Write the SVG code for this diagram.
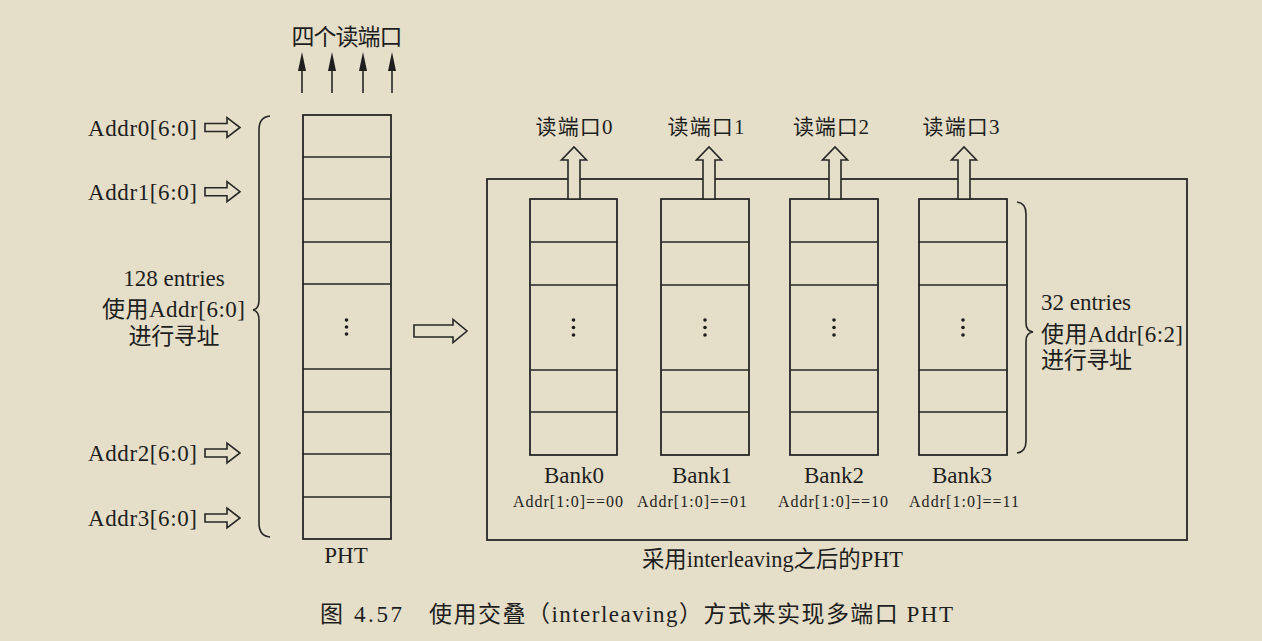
<svg xmlns="http://www.w3.org/2000/svg" width="1262" height="641" viewBox="0 0 1262 641">
<style>
.bg{fill:#e5dec8}
.ln{fill:none;stroke:#262626;stroke-width:1.6}
.box{fill:none;stroke:#262626;stroke-width:1.8}
.hol{fill:#e5dec8;stroke:#262626;stroke-width:1.6;stroke-linejoin:miter}
.head{fill:#1e1e1e}
.t{font-family:"Liberation Serif","Noto Sans CJK SC",serif;fill:#1e1e1e;font-size:23px}
.c{font-family:"Liberation Serif","Noto Sans CJK SC",serif;fill:#1e1e1e;font-size:21px}
.cap{font-family:"Liberation Serif","Noto Sans CJK SC",serif;fill:#1e1e1e;font-size:23px}
.s{font-family:"Liberation Serif","Noto Sans CJK SC",serif;fill:#1e1e1e;font-size:16px}
.mid{text-anchor:middle}
.dot{fill:#1e1e1e}
</style>
<rect class="bg" x="0" y="0" width="1262" height="641"/>

<g id="title-ports">
<text class="t mid" x="347" y="45" textLength="111" lengthAdjust="spacing">四个读端口</text>
</g>

<g id="connectors">
<!-- read port arrows above PHT -->
<path class="ln" d="M302,93V68M332,93V68M363,93V68M392,93V68"/>
<polygon class="head" points="302,52 306,71 298,71"/>
<polygon class="head" points="332,52 336,71 328,71"/>
<polygon class="head" points="363,52 367,71 359,71"/>
<polygon class="head" points="392,52 396,71 388,71"/>
<!-- address hollow arrows -->
<polygon class="hol" points="205,123.5 227,123.5 227,117.5 240,127.5 227,137.5 227,131.5 205,131.5"/>
<polygon class="hol" points="205,187.7 227,187.7 227,181.7 240,191.7 227,201.7 227,195.7 205,195.7"/>
<polygon class="hol" points="205,449 227,449 227,443 240,453 227,463 227,457 205,457"/>
<polygon class="hol" points="205,514 227,514 227,508 240,518 227,528 227,522 205,522"/>
<!-- big transform arrow -->
<polygon class="hol" points="414,325 453,325 453,319.5 467,331 453,342.5 453,337 414,337"/>
</g>

<g id="left-brace">
<path class="ln" d="M270,116 Q259,117 259,130 L259,300 Q259,309 253,310 Q259,311 259,320 L259,523 Q259,536 270,537"/>
<text class="t mid" x="174" y="286">128 entries</text>
<text class="t" x="102" y="317" textLength="143" lengthAdjust="spacing">使用Addr[6:0]</text>
<text class="t mid" x="174" y="344" textLength="91" lengthAdjust="spacing">进行寻址</text>
</g>

<g id="addr-labels">
<text class="t" x="88" y="136" textLength="109" lengthAdjust="spacing">Addr0[6:0]</text>
<text class="t" x="88" y="200" textLength="109" lengthAdjust="spacing">Addr1[6:0]</text>
<text class="t" x="88" y="461" textLength="109" lengthAdjust="spacing">Addr2[6:0]</text>
<text class="t" x="88" y="526" textLength="109" lengthAdjust="spacing">Addr3[6:0]</text>
</g>

<g id="pht">
<rect class="box" x="303" y="115" width="88" height="424"/>
<path class="ln" d="M303,157H391M303,199H391M303,242H391M303,284H391M303,369H391M303,412H391M303,454H391M303,497H391"/>
<circle class="dot" cx="346.5" cy="320" r="1.8"/>
<circle class="dot" cx="346.5" cy="327" r="1.8"/>
<circle class="dot" cx="346.5" cy="334" r="1.8"/>
<text class="t mid" x="346" y="563">PHT</text>
</g>

<g id="interleaved-frame">
<rect class="box" x="487" y="179" width="700" height="361"/>
<text class="t" x="642" y="567" textLength="261" lengthAdjust="spacingAndGlyphs">采用interleaving之后的PHT</text>
</g>

<g id="bank0">
<rect class="box" x="530" y="199" width="87" height="256"/>
<path class="ln" d="M530,242H617M530,285H617M530,370H617M530,412H617"/>
<circle class="dot" cx="573.5" cy="320" r="1.8"/><circle class="dot" cx="573.5" cy="327.5" r="1.8"/><circle class="dot" cx="573.5" cy="335" r="1.8"/>
<polygon class="hol" points="568,199 568,160 561.5,160 574,147 586.5,160 580,160 580,199"/>
<text class="c mid" x="574" y="134" textLength="77" lengthAdjust="spacing">读端口0</text>
<text class="t mid" x="574" y="483">Bank0</text>
<text class="s mid" x="568" y="507" textLength="110" lengthAdjust="spacing">Addr[1:0]==00</text>
</g>

<g id="bank1">
<rect class="box" x="661" y="199" width="88" height="256"/>
<path class="ln" d="M661,242H749M661,285H749M661,370H749M661,412H749"/>
<circle class="dot" cx="705" cy="320" r="1.8"/><circle class="dot" cx="705" cy="327.5" r="1.8"/><circle class="dot" cx="705" cy="335" r="1.8"/>
<polygon class="hol" points="703,199 703,160 696.5,160 709,147 721.5,160 715,160 715,199"/>
<text class="c mid" x="706" y="134" textLength="77" lengthAdjust="spacing">读端口1</text>
<text class="t mid" x="702" y="483">Bank1</text>
<text class="s mid" x="692" y="507" textLength="110" lengthAdjust="spacing">Addr[1:0]==01</text>
</g>

<g id="bank2">
<rect class="box" x="790" y="199" width="88" height="256"/>
<path class="ln" d="M790,242H878M790,285H878M790,370H878M790,412H878"/>
<circle class="dot" cx="834" cy="320" r="1.8"/><circle class="dot" cx="834" cy="327.5" r="1.8"/><circle class="dot" cx="834" cy="335" r="1.8"/>
<polygon class="hol" points="829,199 829,160 822.5,160 835,147 847.5,160 841,160 841,199"/>
<text class="c mid" x="831" y="134" textLength="76" lengthAdjust="spacing">读端口2</text>
<text class="t mid" x="834" y="483">Bank2</text>
<text class="s mid" x="833" y="507" textLength="110" lengthAdjust="spacing">Addr[1:0]==10</text>
</g>

<g id="bank3">
<rect class="box" x="919" y="199" width="88" height="256"/>
<path class="ln" d="M919,242H1007M919,285H1007M919,370H1007M919,412H1007"/>
<circle class="dot" cx="963" cy="320" r="1.8"/><circle class="dot" cx="963" cy="327.5" r="1.8"/><circle class="dot" cx="963" cy="335" r="1.8"/>
<polygon class="hol" points="958,199 958,160 951.5,160 964,147 976.5,160 970,160 970,199"/>
<text class="c mid" x="961" y="134" textLength="77" lengthAdjust="spacing">读端口3</text>
<text class="t mid" x="962" y="483">Bank3</text>
<text class="s mid" x="964" y="507" textLength="110" lengthAdjust="spacing">Addr[1:0]==11</text>
</g>

<g id="right-brace">
<path class="ln" d="M1017,202 Q1026,203 1026,214 L1026,323 Q1026,331 1033,332 Q1026,333 1026,341 L1026,441 Q1026,452 1017,453"/>
<text class="t" x="1041" y="310">32 entries</text>
<text class="t" x="1041" y="342" textLength="142" lengthAdjust="spacing">使用Addr[6:2]</text>
<text class="t" x="1041" y="368" textLength="91" lengthAdjust="spacing">进行寻址</text>
</g>

<g id="caption">
<text class="cap" x="320" y="622" textLength="82" lengthAdjust="spacing">图 4.57</text>
<text class="cap" x="429" y="622" textLength="524" lengthAdjust="spacing">使用交叠（interleaving）方式来实现多端口 PHT</text>
</g>
</svg>
